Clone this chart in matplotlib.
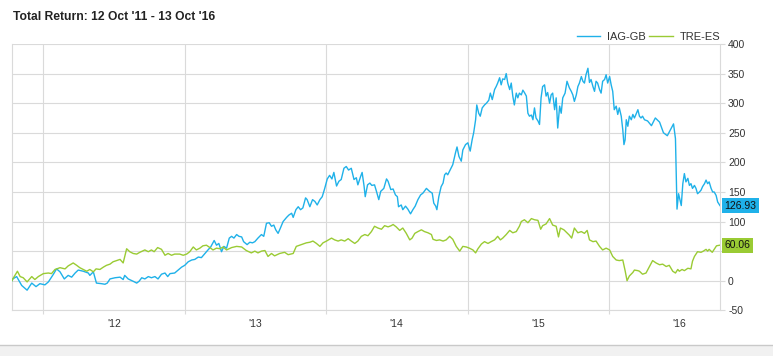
import matplotlib
matplotlib.use("Agg")
import matplotlib.pyplot as plt
import matplotlib.dates as mdates
from matplotlib.patches import Rectangle
from matplotlib.lines import Line2D
import pandas as pd

plt.rcParams['font.family'] = ['Liberation Sans', 'DejaVu Sans']

title = "Total Return: 12 Oct '11 - 13 Oct '16"
start_date = "2011-10-12"
series_names = ["IAG-GB", "TRE-ES"]
last_values = [126.93, 60.06]
y_ticks = [-50, 0, 50, 100, 150, 200, 250, 300, 350, 400]

iag_days = [0, 2, 12, 25, 39, 51, 62, 72, 85, 94, 102, 107, 115, 124, 135, 145, 154, 163, 171, 184,
            197, 201, 210, 218, 231, 240, 246, 253, 266, 279, 287, 291, 300, 313, 322, 328, 335, 343,
            352, 360, 369, 377, 386, 395, 402, 408, 420, 429, 438, 446, 455, 464, 472, 481, 489, 498,
            506, 513, 522, 528, 534, 541, 547, 554, 561, 567, 573, 580, 586, 593, 598, 607, 614, 621,
            627, 635, 644, 650, 657, 664, 670, 676, 681, 687, 693, 700, 709, 715, 722, 726, 733, 739,
            745, 751, 758, 762, 769, 776, 782, 788, 795, 801, 807, 814, 820, 826, 831, 838, 844, 850,
            857, 863, 869, 876, 883, 889, 893, 900, 904, 909, 912, 918, 924, 929, 936, 941, 947, 952,
            960, 967, 971, 978, 984, 990, 995, 998, 1005, 1009, 1016, 1022, 1029, 1035, 1041, 1048,
            1055, 1061, 1070, 1078, 1085, 1089, 1094, 1097, 1102, 1108, 1113, 1117, 1121, 1125, 1132,
            1138, 1145, 1149, 1154, 1160, 1164, 1171, 1177, 1183, 1188, 1192, 1197, 1200, 1205, 1209,
            1214, 1220, 1225, 1231, 1235, 1240, 1246, 1250, 1254, 1259, 1263, 1267, 1272, 1276, 1280,
            1285, 1289, 1293, 1297, 1302, 1306, 1310, 1315, 1319, 1323, 1328, 1332, 1336, 1341, 1345,
            1349, 1353, 1358, 1362, 1366, 1370, 1375, 1379, 1383, 1388, 1392, 1396, 1401, 1405, 1409,
            1414, 1418, 1422, 1428, 1433, 1439, 1444, 1448, 1452, 1457, 1461, 1465, 1470, 1474, 1478,
            1482, 1487, 1491, 1495, 1500, 1504, 1508, 1512, 1517, 1521, 1525, 1530, 1534, 1538, 1543,
            1547, 1551, 1555, 1560, 1564, 1568, 1573, 1577, 1580, 1583, 1586, 1590, 1594, 1599, 1603,
            1607, 1611, 1616, 1620, 1624, 1628, 1633, 1641, 1651, 1661, 1672, 1682, 1692, 1700, 1708,
            1713, 1717, 1721, 1728, 1732, 1736, 1740, 1745, 1749, 1753, 1757, 1762, 1766, 1770, 1775,
            1779, 1783, 1788, 1792, 1796, 1800, 1805, 1809, 1813, 1818, 1822, 1828]
iag_values = [0, 3, 7, -8, -16, -4, -10, -5, -7, -2, 6, 11, 20, 15, 3, 9, 6, 13, 18, 16,
              13, 9, 15, -4, -5, -6, -4, 3, 5, 6, 2, 9, 3, -1, -4, -1, 5, 3,
              7, 5, 7, 3, 11, 13, 7, 12, 13, 18, 23, 26, 32, 35, 36, 40, 39, 46,
              52, 57, 68, 60, 63, 49, 58, 55, 72, 75, 72, 78, 75, 74, 66, 61, 65, 64,
              66, 72, 78, 75, 97, 98, 92, 94, 86, 80, 89, 100, 107, 111, 114, 107, 120, 125,
              120, 123, 140, 137, 125, 137, 134, 128, 137, 142, 155, 172, 178, 172, 183, 160, 168, 171,
              190, 193, 187, 190, 171, 174, 162, 176, 183, 160, 142, 162, 165, 161, 162, 151, 137, 151,
              156, 172, 168, 154, 155, 145, 142, 125, 128, 120, 126, 121, 113, 120, 126, 137,
              145, 148, 156, 151, 148, 131, 126, 120, 142, 159, 165, 179, 182, 179, 188,
              196, 216, 226, 210, 202, 221, 230, 233, 219, 238, 250, 272, 297, 283, 278,
              292, 297, 300, 305, 317, 306, 323, 328, 334, 343, 331, 341, 340, 350, 334,
              323, 334, 312, 297, 317, 309, 317, 314, 322, 318, 312, 283, 278, 280, 272,
              292, 275, 270, 264, 309, 328, 331, 312, 318, 300, 314, 317, 289, 309, 258,
              295, 283, 309, 317, 337, 326, 320, 314, 303, 314, 328, 334, 345, 337, 334,
              348, 359, 335, 340, 328, 320, 337, 334, 323, 317, 337, 340, 348, 334, 345,
              331, 320, 289, 295, 281, 292, 278, 255, 230, 238, 272, 261, 278, 272, 281,
              275, 281, 289, 278, 275, 278, 272, 270, 262, 275, 268, 250, 245, 255, 265,
              240, 121, 147, 127, 164, 181, 167, 173, 161, 164, 156, 161, 156, 147, 150,
              153, 159, 164, 170, 164, 167, 156, 150, 150, 144, 133, 126.93]

tre_days = [0, 2, 14, 21, 29, 39, 51, 59, 68, 81, 94, 102, 111, 124, 137, 145, 158, 167, 175, 184,
            193, 201, 210, 217, 227, 236, 244, 253, 261, 270, 279, 287, 296, 304, 313, 322, 330, 343,
            352, 360, 367, 376, 386, 395, 403, 412, 420, 433, 442, 451, 459, 468, 476, 485, 493, 502,
            511, 519, 528, 537, 545, 554, 567, 580, 593, 605, 618, 627, 635, 644, 653, 661, 670, 678,
            691, 704, 713, 726, 734, 747, 760, 769, 777, 786, 795, 803, 812, 825, 833, 842, 850, 859,
            868, 876, 885, 893, 902, 911, 919, 928, 936, 945, 954, 962, 971, 979, 984, 992, 1001, 1009,
            1018, 1027, 1033, 1040, 1048, 1057, 1065, 1074, 1083, 1087, 1096, 1104, 1113, 1121, 1130,
            1138, 1147, 1156, 1164, 1173, 1181, 1190, 1197, 1203, 1212, 1220, 1229, 1237, 1246, 1254,
            1261, 1267, 1276, 1285, 1293, 1302, 1310, 1315, 1323, 1332, 1341, 1349, 1358, 1365, 1370,
            1379, 1388, 1396, 1405, 1411, 1416, 1425, 1433, 1439, 1445, 1452, 1461, 1470, 1478, 1485,
            1491, 1500, 1508, 1517, 1525, 1534, 1543, 1551, 1560, 1568, 1577, 1583, 1588, 1594, 1603,
            1607, 1616, 1620, 1628, 1637, 1646, 1654, 1663, 1672, 1680, 1689, 1697, 1706, 1713, 1719,
            1723, 1730, 1736, 1745, 1753, 1757, 1762, 1770, 1779, 1785, 1792, 1796, 1800, 1808, 1813,
            1819, 1828]
tre_values = [0, 3, 16, 7, 5, -2, 7, 2, 7, 12, 13, 12, 19, 22, 20, 25, 30, 26, 22, 19,
              16, 19, 15, 20, 19, 23, 26, 28, 32, 34, 36, 30, 54, 49, 46, 45, 48, 52,
              49, 52, 49, 56, 53, 43, 46, 43, 45, 45, 43, 45, 49, 57, 52, 55, 59, 60,
              56, 52, 55, 54, 57, 52, 56, 58, 57, 51, 47, 50, 47, 50, 51, 41, 46, 42,
              46, 48, 44, 46, 58, 61, 64, 65, 67, 63, 58, 64, 67, 72, 69, 67, 69, 67,
              71, 67, 63, 67, 75, 78, 76, 83, 92, 89, 87, 93, 91, 93, 95, 91, 85, 89,
              80, 69, 72, 80, 83, 86, 83, 81, 78, 70, 68, 69, 67, 69, 75,
              70, 58, 50, 58, 57, 55, 52, 47, 54, 62, 66, 63, 66, 69, 75,
              69, 72, 78, 85, 81, 83, 92, 100, 103, 98, 105, 103, 102, 87, 93,
              96, 105, 94, 92, 74, 89, 86, 81, 77, 72, 89, 81, 83, 80, 85,
              69, 66, 67, 58, 52, 55, 52, 41, 35, 34, 35, 17, 0, 8, 14,
              18, 17, 16, 11, 13, 24, 34, 30, 27, 28, 24, 26, 16, 13, 19,
              16, 19, 17, 21, 20, 33, 41, 49, 48, 50, 53, 50, 53, 48, 53,
              59, 60.06]

blue = '#1fb1e9'
green = '#9acb34'
grid_c = '#dadada'
text_c = '#333333'

start = pd.Timestamp(start_date)
iag_dates = start + pd.to_timedelta(iag_days, unit='D')
tre_dates = start + pd.to_timedelta(tre_days, unit='D')

W, H = 773, 356
fig = plt.figure(figsize=(W / 100, H / 100), dpi=100)
fig.patch.set_facecolor('white')

ax_left, ax_right, ax_top, ax_bottom = 12, 720, 44, 310.3
ax = fig.add_axes([ax_left / W, 1 - ax_bottom / H, (ax_right - ax_left) / W, (ax_bottom - ax_top) / H])

ax.plot(iag_dates, iag_values, color=blue, lw=1.0, label=series_names[0], zorder=3)
ax.plot(tre_dates, tre_values, color=green, lw=1.0, label=series_names[1], zorder=3)

ax.set_xlim(start, iag_dates[-1])
ax.set_ylim(y_ticks[0], y_ticks[-1])

# y axis on the right; the 50 label sits under the TRE-ES end label in the reference
ax.yaxis.tick_right()
ax.set_yticks(y_ticks)
ax.set_yticklabels(['' if t == 50 else str(t) for t in y_ticks])
ax.tick_params(axis='y', which='both', length=3.6, width=0.8, color=grid_c,
               labelsize=7.5, labelcolor=text_c, pad=2.2)
ax.grid(axis='y', color=grid_c, lw=0.8, zorder=0)

# x axis: year boundaries as gridlines, labels mid-year
ax.xaxis.set_major_locator(mdates.YearLocator())
ax.xaxis.set_major_formatter(plt.NullFormatter())
ax.xaxis.set_minor_locator(mdates.MonthLocator(bymonth=7, bymonthday=1))
ax.xaxis.set_minor_formatter(mdates.DateFormatter("'%y"))
ax.tick_params(axis='x', which='major', length=3, width=0.8, color=grid_c)
ax.tick_params(axis='x', which='minor', length=0, labelsize=7.5, labelcolor=text_c, pad=6)
ax.grid(axis='x', which='major', color=grid_c, lw=0.8, zorder=0)

for side in ['left', 'right', 'bottom']:
    ax.spines[side].set_color(grid_c)
    ax.spines[side].set_linewidth(0.8)
ax.spines['top'].set_visible(False)

# legend
leg = ax.legend(loc='lower right', bbox_to_anchor=(1.003, 1.0), ncol=2, frameon=False,
                fontsize=8, handlelength=2.1, handletextpad=0.6, columnspacing=0.35,
                borderaxespad=0.1, borderpad=0.1)
for t in leg.get_texts():
    t.set_color(text_c)

# end labels
for val, col in zip(last_values, [blue, green]):
    ax.annotate(f"{val:.2f}", xy=(1.0, val), xycoords=('axes fraction', 'data'),
                xytext=(3.2, 0), textcoords='offset points', ha='left', va='center',
                fontsize=7.5, color='#111111', annotation_clip=False, zorder=5,
                bbox=dict(boxstyle='square,pad=0.25', fc=col, ec=col, lw=0))

# title
fig.text(13 / W, 1 - 17 / H, title, fontsize=8.75, fontweight='bold', color='#222222',
         ha='left', va='center')

# bottom bar
fig.add_artist(Rectangle((0, 0), 1, 11 / H, transform=fig.transFigure,
                         facecolor='#f1f1f1', edgecolor='none'))
fig.add_artist(Line2D([0, 1], [11 / H, 11 / H], transform=fig.transFigure,
                      color='#c9c9c9', lw=1.0))

fig.savefig('out.png', dpi=100, facecolor='white')
